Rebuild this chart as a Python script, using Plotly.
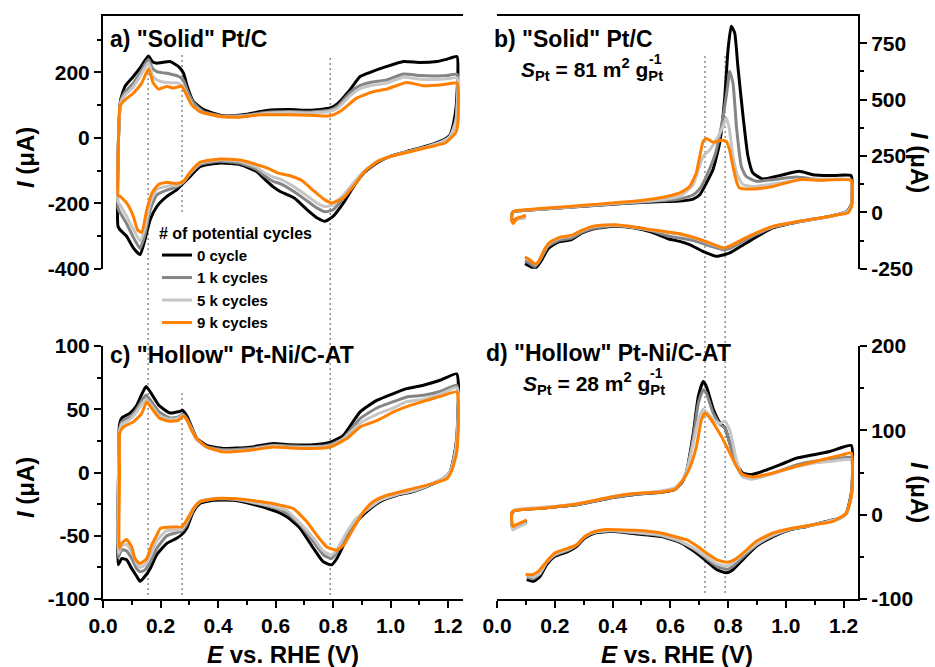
import plotly.graph_objects as go

# ---------------- series definitions ----------------
SERIES_NAMES = ["0 cycle", "1 k cycles", "5 k cycles", "9 k cycles"]
SERIES_COLORS = ["#000000", "#858585", "#c6c6c6", "#ff8000"]

# ---------------- panel a: "Solid" Pt/C (CV) ----------------
A_E_ANOD = [0.052, 0.054, 0.0615, 0.0765, 0.1055, 0.13, 0.158, 0.172, 0.187, 0.204,
            0.233, 0.262, 0.280, 0.293, 0.314, 0.349, 0.419, 0.488, 0.569, 0.650,
            0.72, 0.79, 0.818, 0.859, 0.894, 0.929, 0.987, 1.045, 1.103, 1.161,
            1.196, 1.231]
A_E_CATH = [1.234, 1.228, 1.219, 1.207, 1.184, 1.126, 1.056, 0.998, 0.952, 0.906,
            0.871, 0.836, 0.80, 0.772, 0.745, 0.71, 0.665, 0.616, 0.592, 0.56,
            0.534, 0.476, 0.407, 0.337, 0.303, 0.28, 0.256, 0.222, 0.187, 0.164,
            0.146, 0.129, 0.106, 0.082, 0.059, 0.052]
A0_I_ANOD = [-270, 0, 116, 157, 187, 215, 250, 232, 228, 230,
             233, 218, 197, 157, 111, 86, 67, 70, 83, 86,
             84, 91, 106, 147, 187, 200, 218, 233, 230, 233,
             240, 248]
A0_I_CATH = [200, 96, 45, 9, -6, -25, -42, -57, -77, -108,
             -149, -199, -240, -255, -245, -220, -184, -164, -150, -125,
             -103, -82, -77, -88, -118, -138, -159, -179, -210, -250,
             -311, -357, -337, -301, -281, -270]
A1_I_ANOD = [-215, 0, 112, 140, 167, 200, 240, 212, 202, 199,
             195, 188, 175, 145, 108, 80, 66, 68, 78, 80,
             79, 85, 98, 138, 160, 169, 177, 195, 190, 189,
             190, 194]
A1_I_CATH = [160, 60, 30, 5, -9, -27, -43, -57, -75, -105,
             -143, -185, -220, -226, -215, -193, -165, -140, -133, -115,
             -97, -78, -72, -82, -110, -135, -150, -160, -175, -220,
             -295, -338, -305, -262, -228, -215]
A5_I_ANOD = [-195, 0, 106, 130, 155, 190, 230, 190, 177, 171,
             168, 167, 155, 130, 98, 76, 64, 66, 75, 77,
             76, 81, 92, 128, 150, 159, 167, 185, 179, 178,
             180, 183]
A5_I_CATH = [155, 55, 28, 4, -10, -28, -43, -57, -73, -103,
             -138, -175, -205, -210, -200, -178, -150, -126, -120, -106,
             -90, -72, -67, -78, -107, -134, -145, -148, -158, -200,
             -275, -315, -280, -240, -205, -195]
A9_E_ANOD = [0.053, 0.054, 0.059, 0.0707, 0.09, 0.1055, 0.1345, 0.158, 0.175, 0.1925,
             0.222, 0.245, 0.2736, 0.293, 0.308, 0.337, 0.407, 0.476, 0.546, 0.65,
             0.72, 0.79, 0.824, 0.882, 0.94, 0.987, 1.056, 1.114, 1.172, 1.232]
A9_I_ANOD = [-177, 0, 96, 111, 125, 136, 167, 210, 167, 149,
             157, 152, 157, 126, 101, 80, 65, 63, 70, 70,
             69, 67, 80, 121, 141, 149, 169, 159, 161, 167]
A9_E_CATH = [1.236, 1.234, 1.226, 1.215, 1.19, 1.13, 1.06, 1.0, 0.955, 0.91,
             0.87, 0.835, 0.795, 0.77, 0.735, 0.69, 0.65, 0.61, 0.572, 0.52,
             0.476, 0.407, 0.337, 0.303, 0.28, 0.256, 0.222, 0.193, 0.17, 0.152,
             0.1345, 0.12, 0.1055, 0.082, 0.059, 0.053]
A9_I_CATH = [130, 45, 15, 4, -16, -29, -44, -57, -72, -103,
             -149, -184, -199, -189, -164, -130, -116, -108, -93, -78,
             -68, -65, -75, -105, -133, -140, -136, -143, -169, -220,
             -289, -281, -240, -199, -179, -177]

# ---------------- panel b: "Solid" Pt/C (CO stripping) ----------------
B_HOOK_E = [0.100, 0.085, 0.068, 0.057, 0.051, 0.052, 0.058, 0.075, 0.10]
B0_E_ANOD = B_HOOK_E + [0.20, 0.30, 0.40, 0.50, 0.58, 0.633, 0.679, 0.702, 0.725, 0.748,
                        0.771, 0.788, 0.80, 0.811, 0.823, 0.834, 0.852, 0.869, 0.886, 0.92,
                        0.978, 1.047, 1.093, 1.151, 1.226]
B0_I_ANOD = [-21, -24, -28, -40, -30, -5, 3, 7, 9] + [18, 27, 36, 44, 48, 50, 59, 78, 130, 190,
                                                       308, 500, 722, 826, 796, 648, 426, 249, 175, 148,
                                                       163, 182, 167, 163, 163]
B0_E_CATH = [1.23, 1.228, 1.215, 1.19, 1.151, 1.036, 0.955, 0.863, 0.806, 0.76,
             0.713, 0.667, 0.633, 0.592, 0.535, 0.477, 0.408, 0.339, 0.293, 0.258,
             0.212, 0.177, 0.154, 0.131, 0.108, 0.097]
B0_I_CATH = [130, 40, 8, -6, -18, -44, -69, -136, -180, -195,
             -173, -143, -129, -117, -87, -69, -62, -72, -92, -121,
             -132, -161, -213, -250, -235, -228]
B1_E_ANOD = B_HOOK_E + [0.20, 0.30, 0.40, 0.50, 0.58, 0.633, 0.68, 0.705, 0.725, 0.748,
                        0.76, 0.783, 0.80, 0.805, 0.817, 0.829, 0.846, 0.862, 0.898, 0.955,
                        1.036, 1.116, 1.226]
B1_I_ANOD = [-23, -26, -30, -42, -32, -5, 3, 7, 9] + [18, 28, 37, 46, 52, 59, 78, 110, 160, 230,
                                                       278, 426, 574, 626, 574, 382, 204, 160, 138, 145,
                                                       157, 145, 145]
B1_E_CATH = [1.23, 1.228, 1.215, 1.19, 1.151, 1.036, 0.955, 0.863, 0.806, 0.785,
             0.74, 0.69, 0.633, 0.592, 0.535, 0.477, 0.408, 0.339, 0.293, 0.258,
             0.212, 0.177, 0.154, 0.131, 0.108, 0.097]
B1_I_CATH = [120, 38, 6, -6, -19, -44, -66, -120, -160, -166,
             -150, -128, -114, -105, -82, -67, -60, -70, -89, -114,
             -125, -150, -200, -240, -222, -215]
B5_E_ANOD = B_HOOK_E + [0.20, 0.30, 0.40, 0.50, 0.58, 0.633, 0.679, 0.714, 0.737, 0.76,
                        0.783, 0.794, 0.805, 0.817, 0.834, 0.852, 0.886, 0.978, 1.047, 1.226]
B5_I_ANOD = [-24, -27, -32, -45, -34, -5, 3, 8, 10] + [19, 29, 39, 48, 58, 71, 123, 249, 278, 323,
                                                        382, 419, 367, 249, 160, 123, 115, 130, 145, 142]
B59_E_CATH = [1.23, 1.228, 1.215, 1.19, 1.151, 1.036, 0.955, 0.863, 0.806, 0.785,
              0.74, 0.713, 0.633, 0.592, 0.535, 0.477, 0.408, 0.339, 0.293, 0.258,
              0.222, 0.183, 0.166, 0.143, 0.131, 0.108, 0.097]
B5_I_CATH = [118, 36, 4, -6, -19, -42, -64, -112, -150, -158,
             -140, -126, -97, -89, -79, -67, -57, -62, -82, -104,
             -112, -135, -164, -222, -230, -208, -200]
B9_E_ANOD = B_HOOK_E + [0.20, 0.30, 0.40, 0.50, 0.58, 0.633, 0.667, 0.69, 0.702, 0.714,
                        0.725, 0.748, 0.777, 0.794, 0.805, 0.817, 0.829, 0.84, 0.886, 0.955,
                        1.047, 1.116, 1.226]
B9_I_ANOD = [-13, -20, -26, -50, -38, -5, 4, 9, 12] + [21, 31, 42, 53, 68, 86, 115, 175, 249, 315,
                                                        328, 311, 320, 315, 278, 204, 138, 108, 104, 115,
                                                        145, 142, 142]
B9_I_CATH = [115, 27, -3, -8, -18, -42, -62, -112, -150, -158,
             -138, -124, -95, -87, -77, -65, -55, -60, -80, -102,
             -109, -132, -161, -220, -228, -206, -198]

# ---------------- panel c: "Hollow" Pt-Ni/C-AT (CV) ----------------
C_E_ANOD = [0.053, 0.054, 0.057, 0.065, 0.094, 0.117, 0.135, 0.150, 0.172, 0.195,
            0.233, 0.262, 0.277, 0.293, 0.31, 0.326, 0.36, 0.418, 0.511, 0.592,
            0.65, 0.732, 0.79, 0.836, 0.894, 0.952, 1.01, 1.056, 1.114, 1.172,
            1.23]
C_E_CATH = [1.236, 1.23, 1.219, 1.207, 1.184, 1.137, 1.079, 1.021, 0.963, 0.917,
            0.882, 0.848, 0.813, 0.795, 0.766, 0.732, 0.685, 0.639, 0.604, 0.534,
            0.453, 0.384, 0.337, 0.314, 0.291, 0.274, 0.256, 0.222, 0.187, 0.164,
            0.146, 0.129, 0.117, 0.10, 0.082, 0.065, 0.053]
C0_I_ANOD = [-73, 0, 37, 43, 47, 53, 62, 68, 61, 53,
             47, 48, 49, 44, 35, 27, 21.5, 19, 20, 23,
             22, 22, 24, 29.4, 47.9, 57, 62.4, 66.3, 69, 72.9,
             78]
C0_I_CATH = [69, 27, 11, 0.6, -4.8, -10, -15, -18, -23, -31,
             -39, -52, -68, -73, -70.6, -60, -44, -35, -31, -26,
             -22, -22, -24.5, -31, -44, -49, -52, -56, -65, -76,
             -82, -86, -82, -76, -69, -68, -73]
C1_I_ANOD = [-67, 0, 33, 40, 44, 50, 57, 61, 55, 48,
             43, 44, 46, 42, 34, 26, 20.5, 18, 19, 21.5,
             21, 20.5, 22, 27, 42.6, 51, 56, 59.7, 61, 64,
             69]
C1_I_CATH = [62, 25, 10, 0.5, -4.5, -9.5, -14.5, -17.5, -22, -29.5,
             -37, -49, -63, -68, -65, -55, -41, -32, -28.5, -24.5,
             -21, -21, -23.5, -29.5, -41, -46, -47.5, -50, -60, -71,
             -77, -78.5, -76, -68, -62, -61, -67]
C5_I_ANOD = [-64, 0, 32, 38, 42, 48, 54, 58, 52, 45,
             42, 43, 45, 41, 33.5, 26, 20, 17, 18, 21,
             20, 20, 21, 26.5, 39, 46, 51, 56, 58, 62,
             67]
C5_I_CATH = [60, 24, 9, 0.5, -4.5, -9.5, -14.5, -17.5, -22, -29.5,
             -36, -47, -61, -65, -62, -52, -40, -30, -27.5, -24,
             -21, -20.5, -23, -29, -39, -45, -45.5, -46, -54, -66,
             -73, -75, -72, -63, -57, -58, -64]
C9_E_ANOD = [0.057, 0.0575, 0.058, 0.0707, 0.1055, 0.1345, 0.152, 0.175, 0.198, 0.233,
             0.262, 0.28, 0.293, 0.308, 0.326, 0.36, 0.418, 0.511, 0.592, 0.65,
             0.732, 0.79, 0.848, 0.894, 0.952, 1.01, 1.068, 1.126, 1.184, 1.23]
C9_I_ANOD = [-60, 0, 30.8, 36, 40, 46.6, 55.8, 49, 42.6, 40.5,
             41.3, 44.7, 41, 33.4, 26.8, 20.2, 16.3, 17.6, 20.2, 19.4,
             19, 20.2, 26.8, 36, 41, 47.9, 53, 57, 61, 63.7]
C9_E_CATH = [1.236, 1.23, 1.213, 1.196, 1.126, 1.056, 0.987, 0.94, 0.906, 0.871,
             0.836, 0.813, 0.778, 0.743, 0.709, 0.662, 0.616, 0.546, 0.476, 0.395,
             0.337, 0.314, 0.291, 0.274, 0.245, 0.2, 0.187, 0.169, 0.152, 0.129,
             0.111, 0.1, 0.082, 0.065, 0.057]
C9_I_CATH = [40, 16, 1.8, -4.8, -10, -14, -18, -23, -31, -44,
             -57.5, -61.4, -58.8, -49.5, -39, -28.5, -25.8, -23, -21, -20.6,
             -23, -28.5, -37.7, -43, -43, -44, -49.5, -57.5, -68, -72,
             -68, -59, -53, -56, -60]

# ---------------- panel d: "Hollow" Pt-Ni/C-AT (CO stripping) ----------------
D_E_ANOD = [0.1026, 0.085, 0.065, 0.055, 0.0507, 0.052, 0.062, 0.166, 0.281, 0.396,
            0.477, 0.569, 0.616, 0.64, 0.656, 0.679, 0.697, 0.714, 0.725, 0.749,
            0.772, 0.789, 0.806, 0.829, 0.852, 0.881, 0.933, 0.979, 1.037, 1.095,
            1.152, 1.227]
D_E_CATH = [1.231, 1.227, 1.21, 1.187, 1.141, 1.072, 1.014, 0.956, 0.898, 0.852,
            0.818, 0.795, 0.76, 0.725, 0.691, 0.656, 0.633, 0.569, 0.477, 0.396,
            0.339, 0.304, 0.276, 0.247, 0.2, 0.172, 0.149, 0.126, 0.103]
D0_I_ANOD = [-8, -11, -14, -16, -8, 2, 5, 8, 12, 20,
             24, 26.5, 30, 38, 51, 95, 140, 158, 152, 125,
             109, 103, 85, 61, 49, 47.5, 53, 59, 67, 71,
             75, 82]
D0_I_CATH = [57, 26, 2, -4, -8, -14, -18, -26, -37.5, -53,
             -65, -69, -65, -55, -45.5, -37.5, -33, -26, -22.6, -19.8,
             -21.8, -27.7, -37.6, -43.5, -49.5, -59.3, -73.2, -79, -77]
D1_I_ANOD = [-9, -12, -15, -17, -9, 2, 5, 8, 12, 20,
             24, 27, 31, 39, 51, 90, 132, 148, 144, 120,
             107, 103, 85, 58, 45, 43, 47, 52, 59, 63,
             65, 68]
D1_I_CATH = [50, 24, 1, -4.5, -8.5, -14, -17.5, -25, -36, -50,
             -61, -65, -61, -52, -43, -36, -32, -25, -21.5, -19,
             -21, -26.5, -36, -42, -48, -57, -70, -76, -74]
D5_I_ANOD = [-10, -13, -16, -18, -10, 3, 6, 9, 13, 21,
             25, 28, 32, 40, 51, 84, 112, 125, 122, 113,
             108, 111, 100, 65, 45, 42, 46, 51, 57, 61,
             63, 65]
D5_I_CATH = [48, 23, 1, -4.5, -8.5, -13.5, -17, -24, -35, -47,
             -57, -61, -58, -50, -42, -35, -31, -24, -21, -18.5,
             -20.5, -26, -35.5, -41, -47, -56, -69, -74, -72]
D9_E_ANOD = [0.1026, 0.085, 0.065, 0.055, 0.0507, 0.052, 0.062, 0.166, 0.281, 0.396,
             0.477, 0.569, 0.616, 0.633, 0.65, 0.667, 0.69, 0.708, 0.72, 0.737,
             0.76, 0.783, 0.806, 0.829, 0.852, 0.887, 0.956, 1.037, 1.118, 1.199,
             1.227]
D9_I_ANOD = [-6, -9, -12, -14, -6, 3, 5, 8, 13, 21,
             25, 27, 30, 36, 44, 55, 80, 112.7, 120.6, 114.7,
             102.8, 89, 73.2, 57.4, 47.5, 44.7, 49.4, 57.4, 64.5, 71.2,
             73.2]
D9_E_CATH = [1.231, 1.227, 1.21, 1.164, 1.095, 1.026, 0.956, 0.898, 0.852, 0.818,
             0.795, 0.76, 0.725, 0.691, 0.656, 0.633, 0.569, 0.477, 0.369, 0.339,
             0.304, 0.276, 0.247, 0.2, 0.172, 0.143, 0.12, 0.099]
D9_I_CATH = [49.5, 21.8, 2, -7.9, -11.9, -15.8, -21.7, -31.6, -45.5, -54.2,
             -56.5, -53.4, -45.5, -36.8, -29.6, -27.7, -21.8, -18.6, -17.8, -19.8,
             -25.7, -35.6, -39.6, -45.5, -55.4, -67.2, -71.2, -71]

# ---------------- reference lines and tick labels ----------------
LEFT_GUIDES = [0.157, 0.275, 0.79]
RIGHT_GUIDES = [0.72, 0.79]
X_TICKS = [0.0, 0.2, 0.4, 0.6, 0.8, 1.0, 1.2]
X_TICKTEXT = ["0.0", "0.2", "0.4", "0.6", "0.8", "1.0", "1.2"]
YA_TICKS = [200, 0, -200, -400]
YA_TICKTEXT = ["200", "0", "-200", "-400"]
YB_TICKS = [750, 500, 250, 0, -250]
YB_TICKTEXT = ["750", "500", "250", "0", "-250"]
YC_TICKS = [100, 50, 0, -50, -100]
YC_TICKTEXT = ["100", "50", "0", "-50", "-100"]
YD_TICKS = [200, 100, 0, -100]
YD_TICKTEXT = ["200", "100", "0", "-100"]

PANELS = {
    "a": [(A_E_ANOD + A_E_CATH, A0_I_ANOD + A0_I_CATH),
          (A_E_ANOD + A_E_CATH, A1_I_ANOD + A1_I_CATH),
          (A_E_ANOD + A_E_CATH, A5_I_ANOD + A5_I_CATH),
          (A9_E_ANOD + A9_E_CATH, A9_I_ANOD + A9_I_CATH)],
    "b": [(B0_E_ANOD + B0_E_CATH, B0_I_ANOD + B0_I_CATH),
          (B1_E_ANOD + B1_E_CATH, B1_I_ANOD + B1_I_CATH),
          (B5_E_ANOD + B59_E_CATH, B5_I_ANOD + B5_I_CATH),
          (B9_E_ANOD + B59_E_CATH, B9_I_ANOD + B9_I_CATH)],
    "c": [(C_E_ANOD + C_E_CATH, C0_I_ANOD + C0_I_CATH),
          (C_E_ANOD + C_E_CATH, C1_I_ANOD + C1_I_CATH),
          (C_E_ANOD + C_E_CATH, C5_I_ANOD + C5_I_CATH),
          (C9_E_ANOD + C9_E_CATH, C9_I_ANOD + C9_I_CATH)],
    "d": [(D_E_ANOD + D_E_CATH, D0_I_ANOD + D0_I_CATH),
          (D_E_ANOD + D_E_CATH, D1_I_ANOD + D1_I_CATH),
          (D_E_ANOD + D_E_CATH, D5_I_ANOD + D5_I_CATH),
          (D9_E_ANOD + D9_E_CATH, D9_I_ANOD + D9_I_CATH)],
}
AXES = {"a": ("x", "y"), "b": ("x2", "y2"), "c": ("x3", "y3"), "d": ("x4", "y4")}

FONT = "Liberation Sans, Arial, sans-serif"

fig = go.Figure()
for key, curves in PANELS.items():
    xa, ya = AXES[key]
    for k, (ex, iy) in enumerate(curves):
        fig.add_trace(go.Scatter(
            x=ex, y=iy, mode="lines", name=SERIES_NAMES[k],
            showlegend=(key == "a"),
            line=dict(color=SERIES_COLORS[k], width=3, shape="spline", smoothing=0.5),
            xaxis=xa, yaxis=ya, hoverinfo="skip"))

# ---------------- layout ----------------
L, R, T, B = 103, 77, 16, 68
W, H = 935, 667
PW, PH = W - L - R, H - T - B


def px(x):
    return (x - L) / PW


def py(y):
    return (H - B - y) / PH


XL_DOM = [0, px(462.5)]
XR_DOM = [px(497), 1]
YT_DOM = [py(268.7), 1]
YB_DOM = [0, py(346)]

tickfont = dict(family=FONT, size=21, color="black", weight="bold")
common_ax = dict(showgrid=False, zeroline=False, showline=True, linecolor="black",
                 linewidth=2, tickcolor="black", tickwidth=2, ticklen=7, automargin=False)


def minor(dt):
    return dict(dtick=dt, tick0=0, ticks="outside", ticklen=4, tickwidth=1.5, tickcolor="black")


top_x = dict(common_ax, range=[0, 1.25], side="top", ticks="", showticklabels=False)
bot_x = dict(common_ax, range=[0, 1.25], side="bottom", ticks="outside",
             tickmode="array", tickvals=X_TICKS, ticktext=X_TICKTEXT, tickfont=tickfont,
             minor=minor(0.1))

fig.update_layout(
    template="none",
    width=W, height=H, margin=dict(l=L, r=R, t=T, b=B, autoexpand=False),
    paper_bgcolor="white", plot_bgcolor="white",
    font=dict(family=FONT, color="black"),
    xaxis=dict(top_x, domain=XL_DOM, anchor="y"),
    xaxis2=dict(top_x, domain=XR_DOM, anchor="y2"),
    xaxis3=dict(bot_x, domain=XL_DOM, anchor="y3"),
    xaxis4=dict(bot_x, domain=XR_DOM, anchor="y4"),
    yaxis=dict(common_ax, domain=YT_DOM, anchor="x", range=[-400, 372], side="left",
               ticks="outside", tickmode="array", tickvals=YA_TICKS, ticktext=YA_TICKTEXT,
               tickfont=tickfont, minor=minor(100)),
    yaxis2=dict(common_ax, domain=YT_DOM, anchor="x2", range=[-250, 871], side="right",
                ticks="outside", tickmode="array", tickvals=YB_TICKS, ticktext=YB_TICKTEXT,
                tickfont=tickfont, minor=minor(125)),
    yaxis3=dict(common_ax, domain=YB_DOM, anchor="x3", range=[-100, 100], side="left",
                ticks="outside", tickmode="array", tickvals=YC_TICKS, ticktext=YC_TICKTEXT,
                tickfont=tickfont, minor=minor(25)),
    yaxis4=dict(common_ax, domain=YB_DOM, anchor="x4", range=[-100, 200], side="right",
                ticks="outside", tickmode="array", tickvals=YD_TICKS, ticktext=YD_TICKTEXT,
                tickfont=tickfont, minor=minor(50)),
    legend=dict(x=px(157), y=py(218), xanchor="left", yanchor="top",
                bgcolor="rgba(0,0,0,0)", borderwidth=0,
                font=dict(family=FONT, size=15, color="black", weight="bold"),
                title=dict(text="# of potential cycles",
                           font=dict(family=FONT, size=16, color="black", weight="bold")),
                tracegroupgap=0),
)

# dotted guide lines
dot = dict(color="#8c8c8c", width=1.5, dash="2px,3px")
shapes = []
for g in LEFT_GUIDES:
    if g == 0.275:
        shapes.append(dict(type="line", xref="x", yref="paper", x0=g, x1=g,
                           y0=py(212), y1=py(55), line=dot, layer="below"))
        shapes.append(dict(type="line", xref="x", yref="paper", x0=g, x1=g,
                           y0=py(595), y1=py(392), line=dot, layer="below"))
    else:
        shapes.append(dict(type="line", xref="x", yref="paper", x0=g, x1=g,
                           y0=py(595), y1=py(55), line=dot, layer="below"))
for g in RIGHT_GUIDES:
    shapes.append(dict(type="line", xref="x2", yref="paper", x0=g, x1=g,
                       y0=py(593), y1=py(53), line=dot, layer="below"))
fig.update_layout(shapes=shapes)

title_font = dict(family=FONT, size=23, color="black", weight="bold")
axis_title_font = dict(family=FONT, size=24, color="black", weight="bold")
s_font = dict(family=FONT, size=21, color="black", weight="bold")
sup_font = dict(family=FONT, size=14, color="black", weight="bold")

ann = []


def add_text(text, x, y, font, xanchor="left", yanchor="middle", angle=0):
    ann.append(dict(text=text, x=px(x), y=py(y), xref="paper", yref="paper",
                    xanchor=xanchor, yanchor=yanchor, showarrow=False, font=font,
                    textangle=angle))


add_text('a) "Solid" Pt/C', 108, 39, title_font)
add_text('b) "Solid" Pt/C', 492, 39, title_font)
add_text('c) "Hollow" Pt-Ni/C-AT', 108, 355, title_font)
add_text('d) "Hollow" Pt-Ni/C-AT', 484, 353, title_font)
add_text("<i>S</i><sub>Pt</sub> = 81 m<sup>2</sup> g<sub>Pt</sub>", 519, 69, s_font)
add_text("-1", 655, 59, sup_font, xanchor="center")
add_text("<i>S</i><sub>Pt</sub> = 28 m<sup>2</sup> g<sub>Pt</sub>", 521, 383, s_font)
add_text("-1", 656, 373, sup_font, xanchor="center")
add_text("<i>I</i> (μA)", 25, 158, axis_title_font, xanchor="center", angle=-90)
add_text("<i>I</i> (μA)", 25, 488, axis_title_font, xanchor="center", angle=-90)
add_text("<i>I</i> (μA)", 920, 162, axis_title_font, xanchor="center", angle=90)
add_text("<i>I</i> (μA)", 920, 492, axis_title_font, xanchor="center", angle=90)
add_text("<i>E</i> vs. RHE (V)", 283, 655, axis_title_font, xanchor="center")
add_text("<i>E</i> vs. RHE (V)", 677, 655, axis_title_font, xanchor="center")
fig.update_layout(annotations=ann)

fig.write_html("out.html", config={"displayModeBar": False},
               post_script="document.body.style.margin='0';")
